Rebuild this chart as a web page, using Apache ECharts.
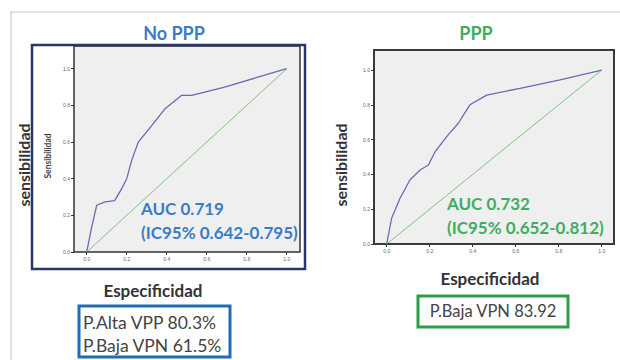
<!DOCTYPE html>
<html><head><meta charset="utf-8">
<script src="https://cdn.jsdelivr.net/npm/echarts@6/dist/echarts.min.js"></script>
<style>html,body{margin:0;padding:0;background:#fff}#c{width:620px;height:360px}</style>
</head><body><div id="c"></div>
<script>
// Tick values and labels
const tickValues = [0, 0.2, 0.4, 0.6, 0.8, 1.0];
const tickLabels = ['0.0', '0.2', '0.4', '0.6', '0.8', '1.0'];
// ROC curve "No PPP" (1 - specificity, sensitivity)
const noPPP_x = [0, 0.025, 0.05, 0.092, 0.14, 0.175, 0.2, 0.225, 0.258, 0.325, 0.39, 0.475, 0.525, 0.69, 0.86, 1.0];
const noPPP_y = [0, 0.136, 0.255, 0.273, 0.28, 0.346, 0.4, 0.5, 0.6, 0.69, 0.78, 0.855, 0.855, 0.9, 0.955, 1.0];
// ROC curve "PPP"
const ppp_x = [0, 0.023, 0.062, 0.108, 0.155, 0.194, 0.225, 0.279, 0.333, 0.387, 0.465, 0.62, 0.806, 1.0];
const ppp_y = [0, 0.148, 0.263, 0.368, 0.425, 0.454, 0.53, 0.617, 0.694, 0.8, 0.856, 0.895, 0.943, 1.0];
// Reference diagonal
const diag_x = [0, 1];
const diag_y = [0, 1];
// Texts
const titles = ['No PPP', 'PPP'];
const aucTexts = [['AUC 0.719', '(IC95% 0.642-0.795)'], ['AUC 0.732', '(IC95% 0.652-0.812)']];
const boxTexts = [['P.Alta VPP 80.3%', 'P.Baja VPN 61.5%'], ['P.Baja VPN 83.92']];

const zip = (xs, ys) => xs.map((x, i) => [x, ys[i]]);
const FONT = 'Lato, "Open Sans", sans-serif';
const blue = '#3b7dc4', green = '#3dae62';
const fmt = v => tickLabels[tickValues.findIndex(t => Math.abs(t - v) < 1e-6)] || '';

function ax(gi, min, max, margin) {
  return {
    type: 'value', gridIndex: gi, min: min, max: max,
    axisLine: {show: false, onZero: false}, splitLine: {show: false},
    axisTick: {show: true, length: 3, lineStyle: {color: '#333', width: 1}, customValues: tickValues},
    axisLabel: {fontSize: 5, color: '#666', margin: margin, customValues: tickValues, formatter: fmt}
  };
}

const chart = echarts.init(document.getElementById('c'), null, {renderer: 'svg'});
chart.setOption({
  animation: false,
  backgroundColor: '#fff',
  grid: [
    {left: 74, top: 46, width: 226, height: 206, show: true, backgroundColor: '#efefef', borderColor: '#333', borderWidth: 1.5},
    {left: 374, top: 50, width: 240, height: 194, show: true, backgroundColor: '#efefef', borderColor: '#3a3a3a', borderWidth: 2}
  ],
  xAxis: [ax(0, -0.0635, 1.0665, 4), ax(1, -0.059, 1.057, 4)],
  yAxis: [ax(0, 0, 1.124, 4), ax(1, 0, 1.115, 4)],
  series: [
    {type: 'line', xAxisIndex: 0, yAxisIndex: 0, data: zip(diag_x, diag_y), symbol: 'none', lineStyle: {color: '#7cc47c', width: 1}},
    {type: 'line', xAxisIndex: 0, yAxisIndex: 0, data: zip(noPPP_x, noPPP_y), symbol: 'none', lineStyle: {color: '#6a6ab2', width: 1.3}},
    {type: 'line', xAxisIndex: 1, yAxisIndex: 1, data: zip(diag_x, diag_y), symbol: 'none', lineStyle: {color: '#7cc47c', width: 1}},
    {type: 'line', xAxisIndex: 1, yAxisIndex: 1, data: zip(ppp_x, ppp_y), symbol: 'none', lineStyle: {color: '#6a6ab2', width: 1.3}}
  ],
  graphic: [
    // slide lines
    {type: 'line', shape: {x1: 10, y1: 12, x2: 620, y2: 12}, style: {stroke: '#c4c4c4', lineWidth: 1}, z: 1},
    {type: 'line', shape: {x1: 11, y1: 12, x2: 11, y2: 360}, style: {stroke: '#c4c4c4', lineWidth: 1}, z: 1},
    // navy frame of left panel
    {type: 'rect', shape: {x: 32, y: 45, width: 273, height: 224}, style: {fill: 'none', stroke: '#2a3568', lineWidth: 2.5}, z: 100},
    // titles
    {type: 'text', x: 174, y: 33, style: {text: titles[0], font: 'bold 18px ' + FONT, fill: blue, align: 'center', verticalAlign: 'middle'}, z: 100},
    {type: 'text', x: 476, y: 33, style: {text: titles[1], font: 'bold 18px ' + FONT, fill: green, align: 'center', verticalAlign: 'middle'}, z: 100},
    // big y labels
    {type: 'text', x: 23, y: 165, rotation: Math.PI / 2, style: {text: 'sensibilidad', font: 'bold 16px ' + FONT, fill: '#333', align: 'center', verticalAlign: 'middle'}, z: 100},
    {type: 'text', x: 340, y: 165, rotation: Math.PI / 2, style: {text: 'sensibilidad', font: 'bold 16px ' + FONT, fill: '#333', align: 'center', verticalAlign: 'middle'}, z: 100},
    // small y label in left plot
    {type: 'text', x: 48, y: 156, rotation: Math.PI / 2, style: {text: 'Sensibilidad', font: 'bold 8.5px ' + FONT, fill: '#444', align: 'center', verticalAlign: 'middle'}, z: 100},
    // x labels
    {type: 'text', x: 153, y: 290, style: {text: 'Especificidad', font: 'bold 17px ' + FONT, fill: '#333', align: 'center', verticalAlign: 'middle'}, z: 100},
    {type: 'text', x: 490, y: 278, style: {text: 'Especificidad', font: 'bold 17px ' + FONT, fill: '#333', align: 'center', verticalAlign: 'middle'}, z: 100},
    // AUC texts
    {type: 'text', x: 141, y: 208, style: {text: aucTexts[0][0], font: 'bold 17px ' + FONT, fill: blue, align: 'left', verticalAlign: 'middle'}, z: 100},
    {type: 'text', x: 141, y: 232, style: {text: aucTexts[0][1], font: 'bold 17px ' + FONT, fill: blue, align: 'left', verticalAlign: 'middle'}, z: 90},
    {type: 'text', x: 447, y: 203, style: {text: aucTexts[1][0], font: 'bold 17px ' + FONT, fill: green, align: 'left', verticalAlign: 'middle'}, z: 100},
    {type: 'text', x: 447, y: 227, style: {text: aucTexts[1][1], font: 'bold 17px ' + FONT, fill: green, align: 'left', verticalAlign: 'middle'}, z: 100},
    // boxes
    {type: 'rect', shape: {x: 79, y: 306, width: 151, height: 51}, style: {fill: '#fff', stroke: '#1f6db3', lineWidth: 3}, z: 100},
    {type: 'text', x: 83, y: 322, style: {text: boxTexts[0][0], font: '17.5px ' + FONT, fill: '#444', align: 'left', verticalAlign: 'middle'}, z: 101},
    {type: 'text', x: 83, y: 345, style: {text: boxTexts[0][1], font: '17.5px ' + FONT, fill: '#444', align: 'left', verticalAlign: 'middle'}, z: 101},
    {type: 'rect', shape: {x: 418, y: 296, width: 150, height: 31}, style: {fill: '#fff', stroke: '#2d9e48', lineWidth: 3}, z: 100},
    {type: 'text', x: 493, y: 311, style: {text: boxTexts[1][0], font: '16.5px ' + FONT, fill: '#444', align: 'center', verticalAlign: 'middle'}, z: 101}
  ]
});
</script></body></html>
